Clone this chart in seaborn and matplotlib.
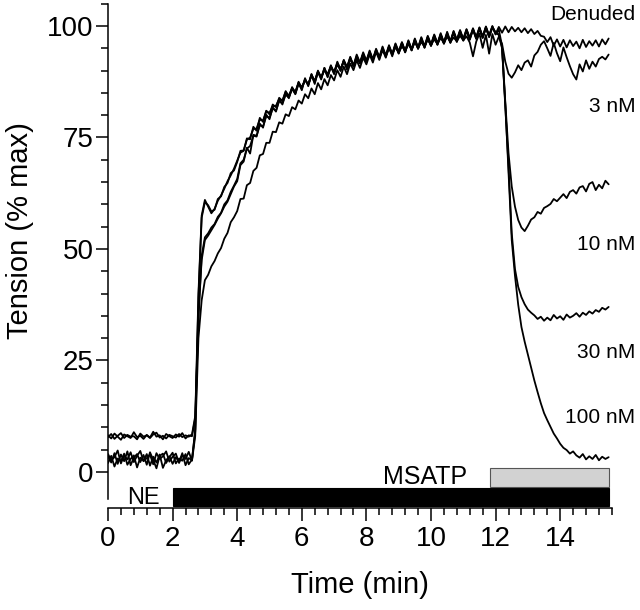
import numpy as np
import pandas as pd
import seaborn as sns
import matplotlib.pyplot as plt
from matplotlib.ticker import MultipleLocator, FixedLocator

# sample clock of the recording (min), one reading every 0.1 min
time_min = np.round(np.arange(0, 15.55, 0.1), 1)

# tension traces (% max), one row per minute
denuded = [
    8.2, 7.5, 8.6, 7.9, 7.2, 8.4, 8.0, 7.6, 8.9, 7.8,
    8.1, 7.4, 8.3, 7.7, 9.0, 7.9, 8.2, 7.3, 8.5, 8.0,
    7.6, 8.4, 7.9, 8.7, 7.5, 8.2, 8.0, 12.0, 40.0, 57.5,
    61.0, 59.5, 58.0, 59.0, 60.8, 62.0, 63.5, 65.2, 66.5, 68.0,
    69.8, 71.6, 72.0, 74.8, 74.6, 77.4, 76.5, 79.4, 78.5, 81.0,
    80.2, 82.4, 81.8, 83.9, 83.2, 85.2, 84.4, 86.0, 85.3, 87.2,
    86.3, 87.8, 87.0, 88.9, 87.7, 89.8, 88.6, 90.0, 89.3, 90.9,
    89.7, 91.7, 90.4, 92.1, 90.9, 92.8, 91.0, 93.3, 91.6, 93.8,
    92.0, 94.2, 92.4, 94.7, 92.9, 95.1, 93.3, 95.4, 93.6, 95.9,
    94.0, 96.2, 94.4, 96.6, 94.6, 97.0, 95.0, 97.3, 95.3, 97.6,
    95.7, 97.9, 96.0, 98.1, 96.4, 98.4, 96.5, 98.7, 96.8, 98.9,
    97.0, 99.2, 97.3, 99.3, 97.5, 99.6, 97.6, 99.8, 97.9, 99.9,
    98.2, 99.8, 98.5, 99.9, 98.6, 99.8, 98.8, 99.6, 98.6, 99.5,
    98.4, 99.3, 98.2, 98.9, 97.8, 97.6, 96.4, 97.5, 95.6, 97.0,
    95.4, 96.9, 95.2, 96.8, 95.5, 96.5, 95.0, 96.9, 95.3, 96.6,
    95.6, 96.8, 95.4, 97.0, 95.9, 97.2,
]
nm3 = [
    3.5, 2.1, 4.2, 1.8, 3.9, 2.4, 4.6, 1.5, 3.2, 4.0,
    2.2, 3.8, 1.6, 4.4, 2.7, 0.8, 3.6, 4.1, 2.0, 3.3,
    4.3, 1.9, 3.0, 2.5, 4.0, 1.7, 2.8, 9.0, 36.0, 47.5,
    52.0, 53.0, 54.2, 55.4, 56.8, 58.0, 59.5, 60.6, 62.3, 64.0,
    65.2, 68.8, 69.6, 72.7, 71.4, 75.6, 75.4, 77.7, 77.5, 79.8,
    79.4, 81.5, 81.0, 83.2, 82.7, 84.6, 84.0, 85.9, 84.8, 87.0,
    85.9, 88.0, 86.8, 88.9, 87.3, 89.6, 88.3, 90.3, 88.7, 90.8,
    89.6, 91.3, 90.2, 92.1, 90.5, 92.6, 91.3, 92.5, 91.9, 93.2,
    92.3, 93.7, 92.6, 94.2, 93.0, 94.5, 93.5, 94.9, 93.8, 95.2,
    94.1, 95.4, 94.5, 95.9, 94.8, 96.3, 95.1, 96.4, 95.4, 96.9,
    95.7, 97.0, 96.0, 97.3, 96.2, 97.6, 96.4, 97.4, 96.6, 97.8,
    96.8, 97.7, 96.3, 93.2, 96.5, 98.3, 95.1, 98.0, 93.8, 98.2,
    95.8, 97.6, 96.0, 92.0, 89.3, 88.4, 89.6, 91.2, 90.1, 91.8,
    92.3, 90.9, 93.4, 94.2, 95.8, 96.6, 95.0, 93.3, 96.2, 93.9,
    92.1, 95.2, 93.0, 91.0, 89.2, 88.0, 91.4, 89.8, 92.3, 90.4,
    92.0, 90.9, 92.6, 93.1, 92.5, 93.6,
]
nm10 = [
    2.0, 3.6, 1.2, 3.0, 2.4, 4.1, 1.6, 2.9, 3.7, 1.0,
    3.2, 2.5, 4.0, 1.4, 3.4, 2.1, 3.9, 0.9, 2.6, 3.5,
    1.8, 3.3, 2.2, 4.2, 1.5, 3.1, 2.6, 9.5, 39.0, 57.0,
    60.5, 59.8, 58.4, 58.8, 61.2, 61.8, 63.9, 64.8, 67.0, 67.6,
    69.5, 72.0, 72.1, 74.5, 75.0, 76.9, 77.0, 79.0, 78.8, 80.9,
    80.5, 82.0, 82.1, 83.6, 83.2, 85.4, 84.1, 86.3, 85.0, 87.5,
    86.1, 88.0, 86.8, 89.2, 87.5, 90.0, 88.3, 90.6, 88.9, 91.2,
    89.4, 92.0, 90.1, 92.4, 90.7, 93.1, 91.1, 93.6, 91.8, 94.1,
    92.2, 94.5, 92.5, 94.9, 93.0, 95.4, 93.4, 95.7, 93.7, 96.1,
    94.3, 96.4, 94.4, 96.8, 94.8, 97.2, 95.2, 97.5, 95.5, 97.8,
    95.9, 98.1, 96.1, 98.4, 96.2, 98.7, 96.5, 98.9, 96.9, 99.1,
    97.1, 99.3, 97.3, 99.5, 97.4, 99.7, 97.6, 99.9, 97.8, 100.0,
    98.1, 99.2, 95.5, 83.0, 71.5, 64.0, 59.5, 56.5, 54.8, 54.0,
    55.2, 56.6, 57.1, 58.3, 57.9, 59.2, 59.6, 60.1, 61.2, 60.7,
    61.5, 62.3, 61.4, 62.8, 63.2, 62.4, 63.8, 64.1, 62.9, 64.6,
    65.0, 63.2, 64.4, 63.6, 65.3, 64.5,
]
nm30 = [
    7.8, 8.5, 7.4, 8.1, 8.7, 7.6, 8.3, 7.9, 8.0, 7.3,
    8.6, 7.9, 8.2, 7.6, 8.4, 8.8, 7.7, 8.1, 7.5, 8.3,
    8.0, 7.7, 8.5, 7.8, 8.2, 7.9, 8.4, 12.5, 34.0, 48.5,
    52.6, 53.5, 54.8, 55.6, 57.2, 58.1, 60.0, 60.9, 62.8, 64.2,
    65.7, 69.2, 70.0, 72.5, 73.1, 75.4, 75.2, 78.1, 77.2, 80.1,
    79.1, 81.8, 80.8, 83.4, 82.4, 84.8, 83.8, 86.1, 84.7, 87.3,
    85.6, 88.3, 86.5, 89.2, 87.0, 89.8, 88.0, 90.6, 88.5, 91.0,
    89.2, 91.6, 89.9, 92.3, 90.2, 92.9, 90.9, 93.0, 91.7, 93.7,
    91.9, 94.1, 92.4, 94.5, 92.7, 94.9, 93.1, 95.4, 93.6, 95.7,
    93.9, 96.2, 94.1, 96.5, 94.5, 96.8, 94.9, 97.0, 95.2, 97.4,
    95.5, 97.7, 95.8, 98.0, 96.0, 98.2, 96.2, 98.5, 96.4, 98.7,
    96.7, 98.9, 96.9, 99.2, 97.1, 99.4, 97.3, 99.6, 97.5, 99.7,
    98.5, 98.0, 95.0, 82.0, 68.5, 53.5, 45.5, 41.5, 39.2, 37.6,
    36.4, 35.7, 35.1, 34.3, 34.8, 33.9, 34.6, 34.0, 35.2, 34.4,
    34.9, 34.1, 35.3, 34.6, 35.0, 35.6, 34.8, 35.7, 35.2, 36.0,
    35.5, 36.3, 35.9, 36.8, 36.4, 37.0,
]
nm100 = [
    4.0, 2.6, 3.3, 4.8, 1.9, 3.7, 2.8, 4.4, 2.2, 3.6,
    4.7, 2.4, 3.1, 3.9, 1.7, 4.2, 2.9, 3.5, 4.6, 2.3,
    3.4, 4.1, 2.0, 3.8, 2.9, 4.5, 2.5, 8.0, 30.0, 38.5,
    43.0, 44.2, 46.1, 47.3, 49.0, 50.2, 52.3, 53.6, 56.0, 57.1,
    58.5, 61.2, 61.3, 64.3, 64.8, 67.5, 68.2, 71.0, 71.3, 73.8,
    73.8, 76.3, 76.2, 78.4, 78.1, 80.2, 79.8, 81.8, 81.3, 83.3,
    82.6, 84.7, 83.8, 86.0, 84.7, 87.2, 85.8, 88.1, 86.7, 89.0,
    87.8, 90.1, 88.6, 90.9, 89.2, 91.6, 90.1, 92.3, 90.6, 92.9,
    91.4, 93.6, 91.8, 94.2, 92.4, 94.7, 92.9, 95.2, 93.2, 95.6,
    93.8, 96.0, 94.1, 96.4, 94.6, 96.8, 94.9, 97.1, 95.1, 97.4,
    95.6, 97.8, 95.8, 98.1, 96.1, 98.3, 96.3, 98.6, 96.6, 98.8,
    96.8, 99.0, 97.0, 99.2, 97.2, 99.4, 97.4, 99.5, 97.6, 99.7,
    98.6, 98.1, 95.2, 82.5, 67.5, 52.0, 44.0, 37.5, 32.5, 29.2,
    26.3, 23.4, 20.5, 17.9, 15.4, 13.2, 11.6, 10.1, 8.6, 7.5,
    6.3, 5.4, 4.9, 4.1, 4.6, 3.7, 3.2, 4.0, 2.8, 3.5,
    2.9, 3.8, 2.6, 3.4, 2.9, 3.3,
]

trace_names = ['Denuded', '3 nM', '10 nM', '30 nM', '100 nM']
traces = [denuded, nm3, nm10, nm30, nm100]

# drug application periods (min)
treat_names = ['NE', 'MSATP']
treat_start = [2.0, 11.83]
treat_end = [15.5, 15.5]

df = pd.concat([pd.DataFrame({'time': time_min, 'tension': y, 'trace': name})
                for name, y in zip(trace_names, traces)], ignore_index=True)

sns.set_style('ticks', {'axes.edgecolor': 'black', 'text.color': 'black',
                        'axes.labelcolor': 'black', 'xtick.color': 'black',
                        'ytick.color': 'black'})
plt.rcParams['font.family'] = ['Liberation Sans', 'DejaVu Sans']

fig = plt.figure(figsize=(6.4, 6.1), dpi=100)
ax = fig.add_axes([0.16875, 0.1672, 0.7873, 0.8267])

sns.lineplot(data=df, x='time', y='tension', hue='trace', units='trace', estimator=None,
             palette=['black'] * 5, legend=False, linewidth=1.3, ax=ax)

# NE and MSATP bars under the traces
ax.barh(-5.6, treat_end[0] - treat_start[0], left=treat_start[0], height=4.0,
        color='black', edgecolor='black', linewidth=0.8)
ax.barh(-1.25, treat_end[1] - treat_start[1], left=treat_start[1], height=4.1,
        color='#d2d2d2', edgecolor='#555555', linewidth=0.8)
ax.text(0.59, -7.2, treat_names[0], fontsize=17, ha='left', va='baseline')
ax.text(8.51, -2.7, treat_names[1], fontsize=18, ha='left', va='baseline')

# labels at the ends of the traces
label_y = [101.3, 80.7, 49.8, 25.6, 11.0]
for name, yy in zip(trace_names, label_y):
    ax.text(16.32, yy, name, fontsize=15, ha='right', va='baseline', clip_on=False)

ax.set_xlim(0, 15.6)
ax.set_ylim(-8.1, 105)
ax.xaxis.set_major_locator(MultipleLocator(2))
ax.xaxis.set_minor_locator(MultipleLocator(0.4))
ax.yaxis.set_major_locator(FixedLocator([0, 25, 50, 75, 100]))
ax.yaxis.set_minor_locator(FixedLocator([5, 10, 15, 20, 30, 35, 40, 45, 55, 60, 65, 70,
                                         80, 85, 90, 95, 105]))
ax.tick_params(axis='both', which='major', labelsize=20, width=1.1, length=9, direction='out')
ax.tick_params(axis='both', which='minor', width=1.1, length=5, direction='out')
ax.tick_params(axis='y', which='major', pad=1.5)
ax.tick_params(axis='x', which='major', pad=4)

sns.despine(ax=ax)
ax.spines['left'].set_bounds(-6, 105)
ax.spines['left'].set_linewidth(1.1)
ax.spines['bottom'].set_linewidth(1.1)

ax.set_xlabel('Time (min)', fontsize=21)
ax.set_ylabel('Tension (% max)', fontsize=21)
ax.xaxis.set_label_coords(0.5, -0.125)
ax.yaxis.set_label_coords(-0.147, 0.551)

fig.savefig('out.png', dpi=100)
